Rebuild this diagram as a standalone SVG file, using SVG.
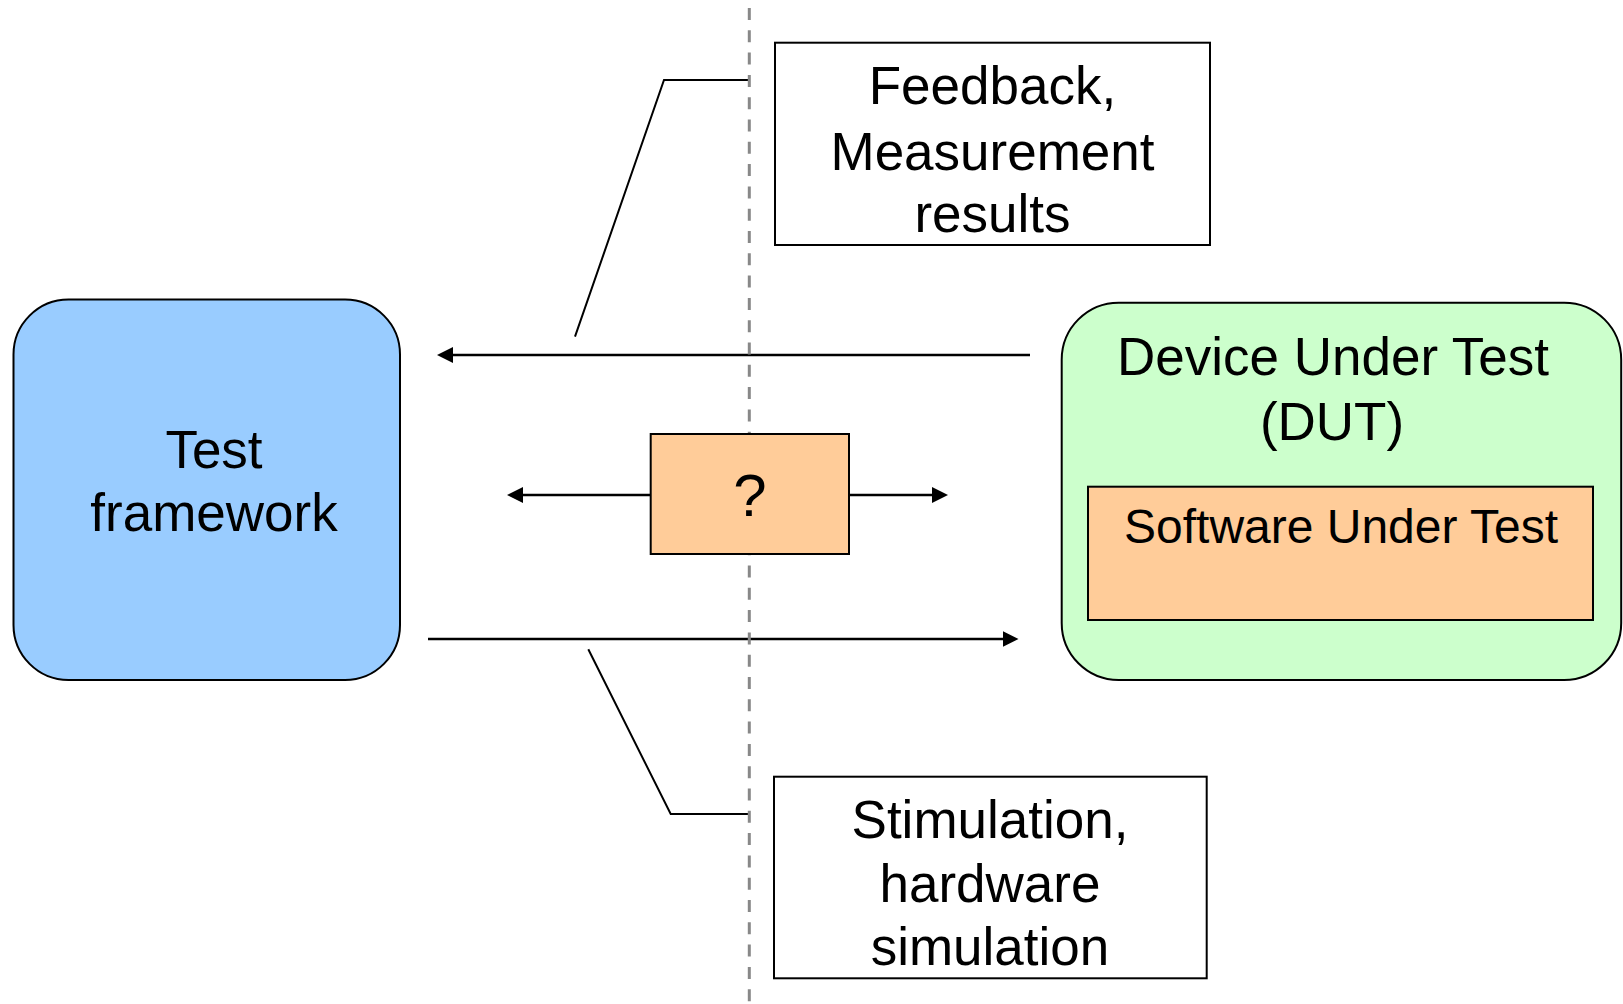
<svg xmlns="http://www.w3.org/2000/svg" width="1623" height="1004" viewBox="0 0 1623 1004">
  <style>
    text { font-family: "Liberation Sans", Arial, sans-serif; fill: #000; text-anchor: middle; }
    .big { font-size: 53px; }
    .sut { font-size: 48px; }
    .q { font-size: 60px; }
    .box { stroke: #000; stroke-width: 2; }
    .arrow { stroke: #000; stroke-width: 2.5; fill: none; marker-end: url(#ah); }
    .callout { stroke: #000; stroke-width: 2; fill: none; }
    .divider { stroke: #888; stroke-width: 3; stroke-dasharray: 12 10.3; stroke-dashoffset: 14.3; }
  </style>
  <defs>
    <marker id="ah" markerUnits="userSpaceOnUse" markerWidth="16" markerHeight="16" viewBox="0 0 16 16" refX="6" refY="8" orient="auto">
      <path d="M0,0 L16,8 L0,16 z" fill="#000"/>
    </marker>
  </defs>
  <rect width="1623" height="1004" fill="#fff"/>

  <g id="connectors">
    <line class="arrow" x1="1030" y1="355" x2="447" y2="355"/>
    <line class="arrow" x1="428" y1="639" x2="1008.5" y2="639"/>
    <line class="arrow" x1="650" y1="495" x2="517" y2="495"/>
    <line class="arrow" x1="849" y1="495" x2="938" y2="495"/>
    <polyline class="callout" points="575,336.7 664,80 748.3,80"/>
    <polyline class="callout" points="588.3,649.3 670.7,814 748.3,814"/>
  </g>

  <line id="divider" class="divider" x1="749.3" y1="0" x2="749.3" y2="1004"/>

  <g id="test-framework">
    <rect class="box" x="13.5" y="299.5" width="386.5" height="380.5" rx="55" ry="55" fill="#99CCFF"/>
    <text class="big" x="214" y="468">Test</text>
    <text class="big" x="214" y="531">framework</text>
  </g>

  <g id="dut">
    <rect class="box" x="1061.7" y="302.7" width="559.5" height="377.3" rx="57" ry="57" fill="#CCFFCC"/>
    <text class="big" x="1333" y="375" font-size="52">Device Under Test</text>
    <text class="big" x="1332" y="440" font-size="52">(DUT)</text>
  </g>

  <g id="sut">
    <rect class="box" x="1088" y="486.7" width="505" height="133.3" fill="#FFCC99"/>
    <text class="sut" x="1341" y="543">Software Under Test</text>
  </g>

  <g id="unknown">
    <rect class="box" x="650.7" y="434" width="198.3" height="120" fill="#FFCC99"/>
    <text class="q" x="750" y="515.5">?</text>
  </g>

  <g id="feedback">
    <rect class="box" x="775" y="42.7" width="435" height="202.3" fill="#fff"/>
    <text class="big" x="992.5" y="104">Feedback,</text>
    <text class="big" x="992.5" y="170">Measurement</text>
    <text class="big" x="992.5" y="232">results</text>
  </g>

  <g id="stimulation">
    <rect class="box" x="774" y="776.7" width="432.7" height="201.6" fill="#fff"/>
    <text class="big" x="990" y="838">Stimulation,</text>
    <text class="big" x="990" y="901.7">hardware</text>
    <text class="big" x="990" y="965">simulation</text>
  </g>
</svg>
